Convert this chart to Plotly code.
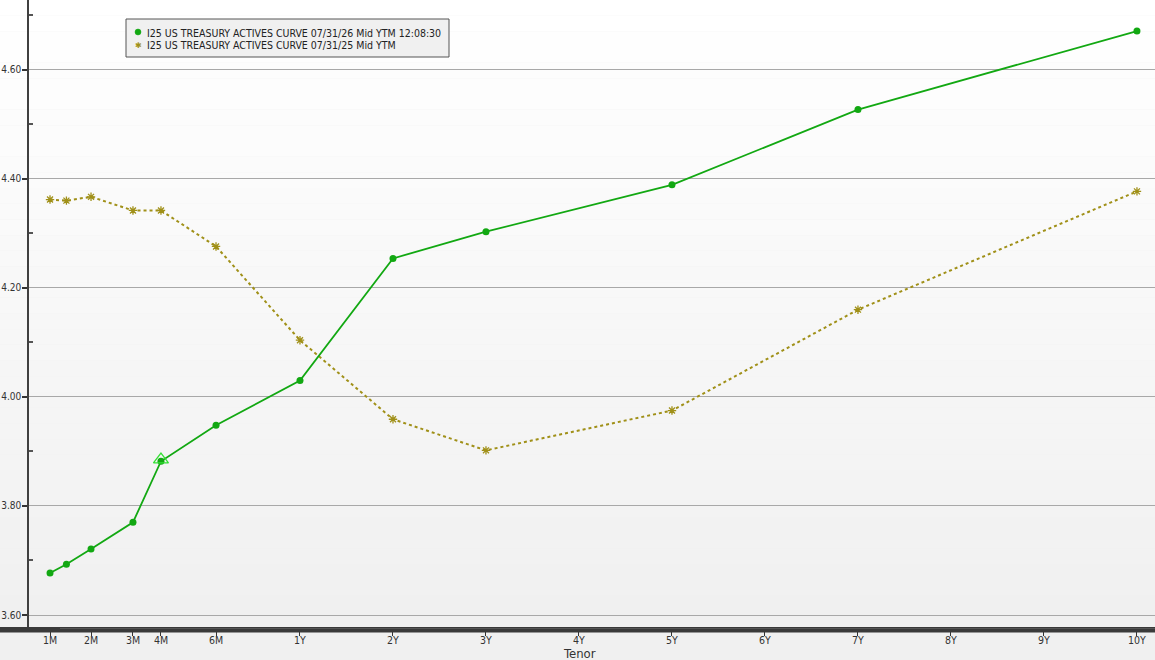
import numpy as np
import plotly.graph_objects as go

# ---------------- data ----------------
tenor_months = [1, 1.4, 2, 3, 4, 6, 12, 24, 36, 60, 84, 120]
curve_2026 = [3.677, 3.693, 3.721, 3.770, 3.882, 3.948, 4.030, 4.254, 4.303, 4.389, 4.527, 4.671]
curve_2025 = [4.362, 4.360, 4.367, 4.342, 4.342, 4.276, 4.104, 3.959, 3.902, 3.975, 4.160, 4.377]
tick_months = [1, 2, 3, 4, 6, 12, 24, 36, 48, 60, 72, 84, 96, 108, 120]
tick_labels = ["1M", "2M", "3M", "4M", "6M", "1Y", "2Y", "3Y", "4Y", "5Y", "6Y", "7Y", "8Y", "9Y", "10Y"]
name_2026 = "I25 US TREASURY ACTIVES CURVE 07/31/26 Mid YTM 12:08:30"
name_2025 = "I25 US TREASURY ACTIVES CURVE 07/31/25 Mid YTM"
x_title = "Tenor"
flag_month = 4
flag_value = 3.885

# ---------------- tenor scale (piecewise, short end stretched) ----------------
_knot_m = [1, 2, 3, 4, 6, 12, 120]
_knot_p = [-1.688, -1.247, -0.796, -0.495, 0.097, 1.0, 10.0]


def tenor_scale(m):
    return np.interp(np.asarray(m, dtype=float), _knot_m, _knot_p)


GREEN = "#12a812"
OLIVE = "#a09018"
FONT = "DejaVu Sans Condensed, DejaVu Sans, sans-serif"

# layout geometry (pixels)
W, H = 1155, 660
ML, MB = 29, 33
PW, PH = W - ML, H - MB


def px(x):
    return (x - ML) / PW


def py(y):
    return (PH - y) / PH


fig = go.Figure()

fig.add_trace(go.Scatter(
    x=tenor_scale(tenor_months), y=curve_2025, mode="lines+markers",
    line=dict(color=OLIVE, width=2, dash="dot"),
    marker=dict(symbol="asterisk-open", size=7, color=OLIVE, line=dict(color=OLIVE, width=1.3)),
    showlegend=False, hoverinfo="skip"))

fig.add_trace(go.Scatter(
    x=tenor_scale(tenor_months), y=curve_2026, mode="lines+markers",
    line=dict(color=GREEN, width=1.8),
    marker=dict(symbol="circle", size=7, color=GREEN),
    showlegend=False, hoverinfo="skip"))

fig.add_trace(go.Scatter(
    x=tenor_scale([flag_month]), y=[flag_value], mode="markers",
    marker=dict(symbol="triangle-up-open", size=13, color="#33e033",
                line=dict(color="#33e033", width=1.3)),
    showlegend=False, hoverinfo="skip"))

# background gradient (white at top -> light grey at bottom)
n_bands = 40
for i in range(n_bands):
    t = i / (n_bands - 1)
    c = int(round(255 - t * (255 - 240)))
    fig.add_shape(type="rect", xref="paper", yref="paper",
                  x0=-0.03, x1=1.0, y0=1 - (i + 1) / n_bands, y1=1 - i / n_bands,
                  fillcolor=f"rgb({c},{c},{c})", line=dict(width=0), layer="below")

# bottom dark band (axis bar)
fig.add_shape(type="rect", xref="paper", yref="paper", x0=-0.03, x1=1.0,
              y0=-5.5 / PH, y1=0.0, fillcolor="#3a3a3a", line=dict(width=0), layer="above")
fig.add_shape(type="line", xref="paper", yref="paper", x0=px(60), x1=1.0,
              y0=-1.5 / PH, y1=-1.5 / PH, line=dict(color="#555555", width=1), layer="above")

# ---------------- custom legend box ----------------
fig.add_shape(type="rect", xref="paper", yref="paper",
              x0=px(126), x1=px(449), y0=py(57), y1=py(19),
              fillcolor="#f0f0f0", line=dict(color="#555555", width=1), layer="above")
fig.add_shape(type="circle", xref="paper", yref="paper",
              x0=px(135), x1=px(141), y0=py(35), y1=py(29),
              fillcolor=GREEN, line=dict(color=GREEN, width=0.5), layer="above")
for name, yy in [(name_2026, 32.5), (name_2025, 45.5)]:
    fig.add_annotation(xref="paper", yref="paper", x=px(145), y=py(yy), text=name,
                       showarrow=False, xanchor="left", yanchor="middle",
                       font=dict(family=FONT, size=10.5, color="#222222"))
fig.add_annotation(xref="paper", yref="paper", x=px(138), y=py(45.5), text="✱",
                   showarrow=False, xanchor="center", yanchor="middle",
                   font=dict(family="DejaVu Sans", size=8, color=OLIVE))

# x axis title
fig.add_annotation(xref="paper", yref="paper", x=px(579), y=py(653), text=x_title,
                   showarrow=False, xanchor="center", yanchor="middle",
                   font=dict(family=FONT, size=13, color="#333333"))

fig.update_layout(
    width=W, height=H,
    margin=dict(l=ML, r=0, t=0, b=MB, autoexpand=False),
    paper_bgcolor="#f0f0f0", plot_bgcolor="rgba(0,0,0,0)",
    font=dict(family=FONT, size=11, color="#333333"),
    showlegend=False,
    xaxis=dict(range=[-1.914, 10.194], tickvals=tenor_scale(tick_months), ticktext=tick_labels,
               showgrid=False, zeroline=False, showline=False, automargin=False,
               ticks="outside", ticklen=8, tickcolor="#333333", ticklabelstandoff=-5,
               tickfont=dict(family=FONT, size=10.5, color="#333333")),
    yaxis=dict(range=[3.578, 4.728], tickvals=[3.6, 3.8, 4.0, 4.2, 4.4, 4.6],
               ticktext=["3.60", "3.80", "4.00", "4.20", "4.40", "4.60"],
               showgrid=True, gridcolor="#a8a8a8", gridwidth=1, zeroline=False, automargin=False,
               showline=True, linecolor="#404040", linewidth=1.5,
               ticks="outside", ticklen=5, tickwidth=2, tickcolor="#333333",
               ticklabelstandoff=-1,
               tickfont=dict(family=FONT, size=10, color="#333333"),
               minor=dict(tickvals=[3.7, 3.9, 4.1, 4.3, 4.5, 4.7], ticks="inside", ticklen=4,
                          tickcolor="#555555", showgrid=False)),
)

fig.write_html("out.html", config={"displayModeBar": False},
               post_script="document.body.style.margin='0';")
